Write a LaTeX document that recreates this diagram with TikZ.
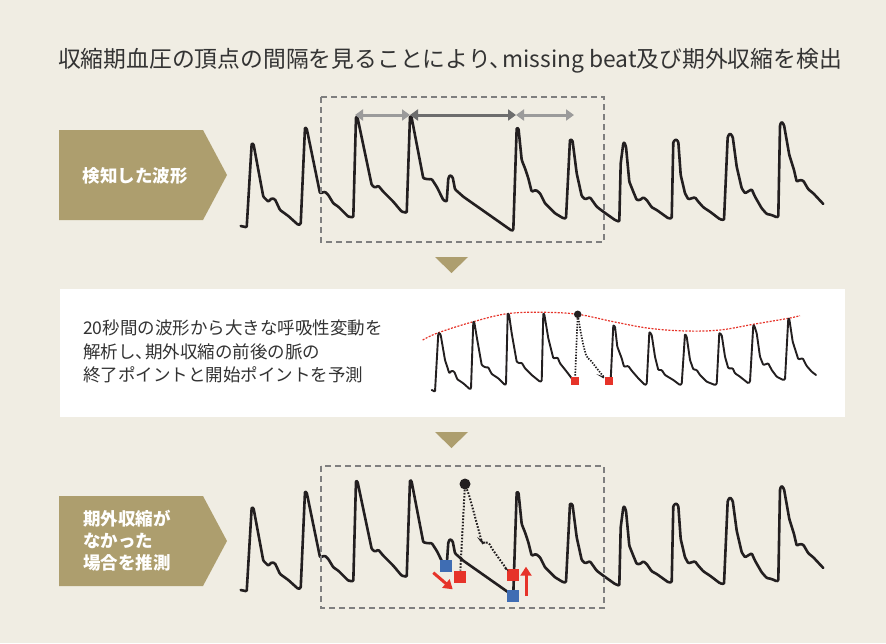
\documentclass[tikz,border=0pt]{standalone}
\usepackage{fontspec}
\setmainfont{Noto Sans CJK JP}
\usetikzlibrary{arrows.meta}
\definecolor{bgc}{HTML}{F0EDE3}
\definecolor{gold}{HTML}{AD9E6E}
\definecolor{dashc}{HTML}{7F7F7F}
\definecolor{lightarr}{HTML}{9B9B9B}
\definecolor{darkarr}{HTML}{6D6D6D}
\definecolor{redc}{HTML}{E63329}
\definecolor{bluec}{HTML}{3F6DB3}
\definecolor{wavec}{HTML}{231F20}
\definecolor{txtc}{HTML}{333333}
\newcommand{\halfcomma}{、\kern-0.45em}
\begin{document}
\begin{tikzpicture}[x=1pt,y=-1pt,
  wave/.style={line width=2.6pt, draw=wavec, line join=round, line cap=round, rounded corners=1pt},
  thinwave/.style={line width=1.9pt, draw=wavec, line join=round, line cap=round, rounded corners=0.8pt},
  dashbox/.style={draw=dashc, line width=1.3pt, dash pattern=on 6pt off 4pt},
  garrow/.style={{Triangle[length=8pt,width=11pt]}-{Triangle[length=8pt,width=11pt]}, line width=3pt},
  redarrow/.style={-{Triangle[length=9pt,width=11pt]}, line width=3pt, draw=redc, fill=redc},
  sq/.style={fill=#1, minimum size=12pt, inner sep=0pt, draw=none},
  smallsq/.style={fill=redc, minimum size=8pt, inner sep=0pt, draw=none},
  dots/.style={line width=2pt, draw=wavec, dash pattern=on 1.6pt off 1.6pt},
  label/.style={text=white, font=\fontsize{17.5}{22}\selectfont\bfseries, inner sep=0pt},
  body/.style={text=txtc, font=\fontsize{17.5}{23.5}\selectfont, inner sep=0pt, anchor=base west}
]
\useasboundingbox (0,0) rectangle (886,643);
\fill[bgc] (0,0) rectangle (886,643);

% title
\node[text=txtc, font=\fontsize{22.8}{26}\selectfont, inner sep=0pt, anchor=base] (title) at (450,67.5)
  {収縮期血圧の頂点の間隔を見ることにより\halfcomma missing beat及び期外収縮を検出};

% white panel
\fill[white] (60,289) rectangle (845,417);

% left pentagons
\fill[gold] (59,130) -- (203,130) -- (227,175) -- (203,220) -- (59,220) -- cycle;
\fill[gold] (59,496) -- (203,496) -- (227,541) -- (203,586) -- (59,586) -- cycle;
\node[label, anchor=base] (lab1) at (135,182) {検知した波形};
\node[label, anchor=base west] (lab2a) at (83,525.5) {期外収縮が};
\node[label, anchor=base west] (lab2b) at (83,547.5) {なかった};
\node[label, anchor=base west] (lab2c) at (83,569.5) {場合を推測};

% down triangles
\fill[gold] (435,257) -- (468,257) -- (451.5,273) -- cycle;
\fill[gold] (435,432) -- (468,432) -- (451.5,448) -- cycle;

% middle text
\node[body] (t1) at (83,334.7) {20秒間の波形から大きな呼吸性変動を};
\node[body] (t2) at (83,358.2) {解析し\halfcomma 期外収縮の前後の脈の};
\node[body] (t3) at (83,381.7) {終了ポイントと開始ポイントを予測};

% top and bottom waves
\foreach \dy in {0,364} {
\draw[wave, shift={(0,\dy)}] (240.7,226) -- (246.7,227.3) -- (251.7,143.3) -- (253.5,144) -- (263.3,196.7) -- (268.3,201.7) -- (271.7,198.3) -- (275,199.3) -- (280,210) -- (288.3,216) -- (298.3,225) -- (300.7,224) -- (305,127.3) -- (306.7,128.5) -- (320,193.3) -- (325,191.7) -- (328.3,195) -- (333.3,203.3) -- (338.3,206.7) -- (348.3,216.7) -- (353.3,217.3) -- (356,116.7) -- (357.5,117.5) -- (371.7,185) -- (375,187.7) -- (378.3,185.7) -- (383.3,191.7) -- (393.3,201.7) -- (401.7,211.7) -- (406.7,212.7) -- (410,116) -- (411.5,117) -- (423.3,178.3) -- (428.3,179.3) -- (431.7,179) -- (436.7,186.7) -- (443.3,200) -- (446.7,201.7) -- (448.3,178.3) -- (450,175) -- (452.7,177.3) -- (455,189.3) -- (463.3,196.7) -- (511.7,230.7) -- (513.3,230) -- (516.7,127.7) -- (518.5,128.5) -- (521.7,160) -- (525,168.3) -- (528.3,178.3) -- (531.7,191.7) -- (536,190) -- (540,193.3) -- (545,203.3) -- (555,213.3) -- (563.3,218.3) -- (566,218.3) -- (570,139.3) -- (572.5,140.5) -- (576.7,173.3) -- (581.7,196) -- (585,199.3) -- (590,197.3) -- (596.7,206.7) -- (603.3,211.7) -- (615,220) -- (619.3,221.7) -- (620.7,163.3) -- (623.3,143.3) -- (624.3,142.3) -- (626,146.7) -- (629.3,181.7) -- (633.3,191.7) -- (636.7,200) -- (640,200) -- (643.3,197.3) -- (646.7,200) -- (651.7,207.3) -- (656.7,210) -- (668.3,218.3) -- (671.7,218.3) -- (673.3,141.7) -- (676,139.3) -- (678.3,141.7) -- (680.7,175) -- (685,193.3) -- (688.3,199.3) -- (695,197.3) -- (698.3,201.7) -- (703.3,207.3) -- (710,211.7) -- (720,219.3) -- (724,220) -- (727.7,136.7) -- (730,133.3) -- (732.7,136.7) -- (736.7,166.7) -- (741.7,188.3) -- (745,193.3) -- (751.7,189.3) -- (755,196.7) -- (761.7,208.3) -- (766.7,214) -- (771.7,215) -- (776.7,217.3) -- (778.3,216.7) -- (780,125) -- (781.7,121.7) -- (784,125) -- (789.3,155) -- (794,170) -- (796.7,181.7) -- (800,180) -- (803.3,180.7) -- (808.3,189.3) -- (813.3,193.3) -- (823.3,204);
}

% dashed boxes
\draw[dashbox] (321,97) rectangle (604,242);
\draw[dashbox] (321,466) rectangle (604,608);

% interval arrows
\coordinate (a1) at (355,115);
\coordinate (a2) at (410,115);
\coordinate (a3) at (516,115);
\coordinate (a4) at (574,115);
\draw[garrow, draw=lightarr, fill=lightarr] (a1) -- (a2);
\draw[garrow, draw=darkarr, fill=darkarr] (a2) -- (a3);
\draw[garrow, draw=lightarr, fill=lightarr] (a3) -- (a4);

% middle wave
\draw[redc, line width=1.2pt, dash pattern=on 2pt off 1.4pt] plot[smooth, tension=0.6] coordinates {(422.7,340) (438.3,332.7) (473.3,321.7) (507.7,313.6) (543.3,312.3) (577.7,314.3) (613.3,321.7) (649.3,328.3) (686.7,331) (720,330) (753.3,324.3) (788.3,318.3) (800,315.7)};
\draw[thinwave] (431.7,390) -- (435,391.7) -- (438.3,333.3) -- (439.5,333) -- (440.7,335) -- (445,360) -- (449.3,373.3) -- (451.7,370.7) -- (454.3,371.7) -- (457.3,379.3) -- (463.3,383.3) -- (470,389.3) -- (471,388.3) -- (473.3,321.7) -- (474.3,322.3) -- (476.7,336.7) -- (481.7,365) -- (485,367.3) -- (488.3,367.3) -- (491.7,374) -- (498.3,378.3) -- (505,385) -- (506,384) -- (507.7,313.3) -- (509,314.3) -- (511.7,333.3) -- (516.7,361.7) -- (519.3,363.3) -- (521.7,362.7) -- (525,368.3) -- (531.7,375) -- (540,381.7) -- (541.7,381) -- (543.3,313.3) -- (544.3,314.3) -- (548.3,338.3) -- (553.3,358.3) -- (557.7,357.7) -- (560,363.3) -- (566.7,371.7) -- (571.7,378.3) -- (575,380.7);
\draw[thinwave] (610.7,380) -- (613.3,325) -- (615,326.7) -- (617.3,346.7) -- (621.7,358.3) -- (624,366.7) -- (628.3,366) -- (631.7,370.7) -- (638.3,378.3) -- (645,385) -- (646.7,384) -- (649.3,332.7) -- (650,332.3) -- (651.7,335) -- (655,356.7) -- (658.3,370) -- (661.7,370) -- (665,375) -- (673.3,380) -- (680,385) -- (681.7,384) -- (685,334) -- (686.7,336.7) -- (690,360) -- (693.3,369.3) -- (696.7,370) -- (700,375) -- (706.7,381.7) -- (715,385) -- (716.7,384) -- (719.3,332.7) -- (721.7,335) -- (725,356.7) -- (728.3,368.3) -- (732.7,368.3) -- (735,373.3) -- (740,376.7) -- (748.3,383.3) -- (750,381.7) -- (753.3,325) -- (754.3,325.7) -- (756.7,333.3) -- (760,356.7) -- (763.3,365) -- (768.3,363.3) -- (771.7,370) -- (776.7,376.7) -- (783.3,380) -- (785,379.3) -- (788.3,318.3) -- (789.3,319) -- (792.7,341.7) -- (798.3,359.3) -- (802.7,358.3) -- (806.7,366) -- (811.7,371.7) -- (816,375);

\node[circle, fill=wavec, minimum size=7.5pt, inner sep=0pt] (md) at (577.7,314.3) {};
\node[smallsq] (mr1) at (575,380.7) {};
\node[smallsq] (mr2) at (609,380.7) {};
\draw[dots, line width=1.7pt, dash pattern=on 1.4pt off 1.4pt] (md) -- (mr1);
\draw[dots, line width=1.7pt, dash pattern=on 1.4pt off 1.4pt, rounded corners=2pt] (md) -- (580.5,331) -- (583.5,346) -- (586.7,357.5) -- (590,359.5) -- (596.7,368.3) -- (605,378.3) -- (mr2);

% bottom predicted markers
\node[circle, fill=wavec, minimum size=11pt, inner sep=0pt] (bd) at (465,484) {};
\node[sq=bluec] (b1) at (446,566) {};
\node[sq=redc] (r1) at (460,576.7) {};
\node[sq=redc] (r2) at (512.7,575) {};
\node[sq=bluec] (b2) at (512.7,596) {};
\draw[dots] (bd) -- (r1);
\draw[dots, rounded corners=3pt] (bd) -- (469,495) -- (474,513) -- (481.7,541.7) -- (483,543.5) -- (488.3,541.7) -- (491.7,548.3) -- (506.7,569.3) -- (r2);
\coordinate (ra1s) at (433.3,572.7);
\coordinate (ra1e) at (452.7,589.3);
\coordinate (ra2s) at (526,596);
\coordinate (ra2e) at (526,566.7);
\draw[redarrow] (ra1s) -- (ra1e);
\draw[redarrow] (ra2s) -- (ra2e);
\end{tikzpicture}
\end{document}
